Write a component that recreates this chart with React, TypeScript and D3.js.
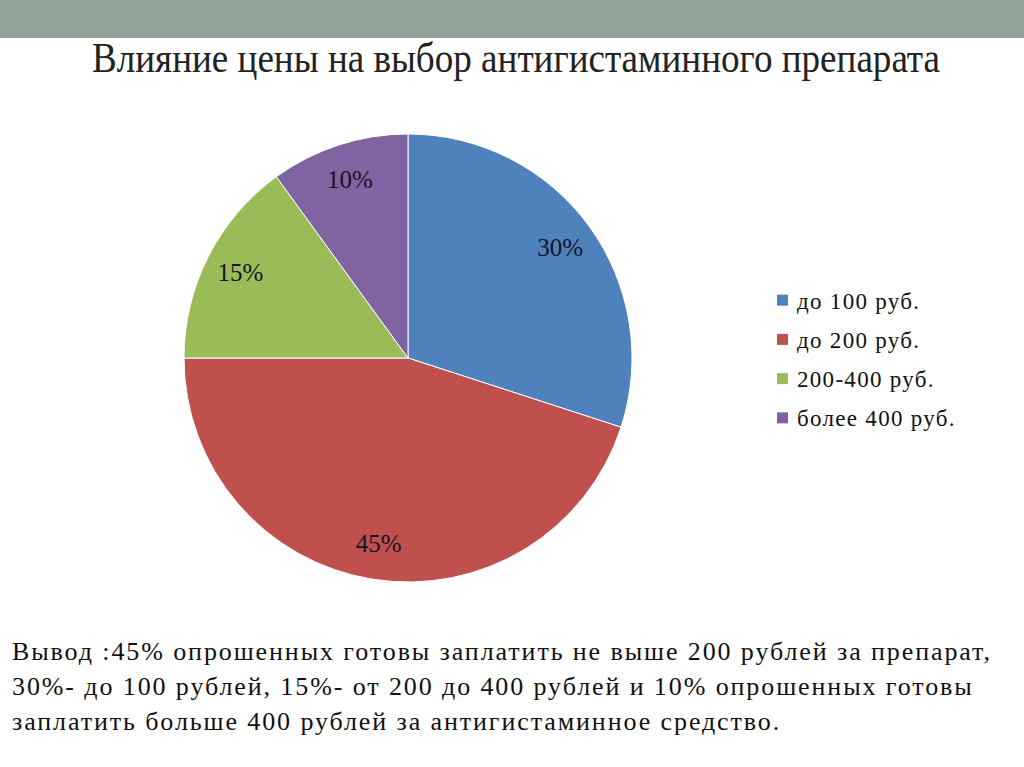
import React from "react";
import * as d3 from "d3";

const categories = ["до 100 руб.", "до 200 руб.", "200-400 руб.", "более 400 руб."];
const values = [30, 45, 15, 10];
const colors = ["#4f81bd", "#c0504d", "#9bbb59", "#8064a2"];
const title = "Влияние цены на выбор антигистаминного препарата";
const conclusion = [
  "Вывод :45% опрошенных готовы заплатить не выше 200 рублей за препарат,",
  "30%- до 100 рублей, 15%- от 200 до 400 рублей и 10% опрошенных готовы",
  "заплатить больше 400 рублей за антигистаминное средство.",
];

export default function App() {
  const W = 1024, H = 767;
  const cx = 408, cy = 358, R = 224;
  const pie = d3.pie<number>().sort(null).value((d) => d);
  const arcs = pie(values);
  const arc = d3.arc<d3.PieArcDatum<number>>().innerRadius(0).outerRadius(R);
  const labelArc = d3.arc<d3.PieArcDatum<number>>().innerRadius(188).outerRadius(188);
  const legendY = d3.scaleBand<number>().domain(d3.range(categories.length)).range([281, 438]);
  const font = "'Liberation Serif', 'Times New Roman', serif";
  return (
    <svg width={W} height={H} style={{ position: "absolute", left: 0, top: 0, background: "#fff" }}>
      <rect x={0} y={0} width={W} height={38} fill="#93a399" />
      <text x={92} y={72} style={{ fontFamily: font }} fontSize={42} fill="#222" textLength={848} lengthAdjust="spacingAndGlyphs">
        {title}
      </text>
      <g transform={`translate(${cx},${cy})`}>
        {arcs.map((a, i) => (
          <path key={i} d={arc(a) as string} fill={colors[i]} stroke="#fff" strokeWidth={1} />
        ))}
        {arcs.map((a, i) => {
          const [x, y] = labelArc.centroid(a);
          return (
            <text key={i} x={x} y={y} dy="0.35em" textAnchor="middle" style={{ fontFamily: font }} fontSize={25} fill="#141428">
              {values[i]}%
            </text>
          );
        })}
      </g>
      {categories.map((c, i) => {
        const y = (legendY(i) as number) + legendY.bandwidth() / 2;
        return (
          <g key={i}>
            <rect x={777} y={y - 6} width={11} height={11} fill={colors[i]} />
            <text x={797} y={y} dy="0.35em" style={{ fontFamily: font, letterSpacing: "1.3px" }} fontSize={23} fill="#111">
              {c}
            </text>
          </g>
        );
      })}
      {conclusion.map((line, i) => (
        <text key={i} x={12} y={660 + i * 35} style={{ fontFamily: font, letterSpacing: "1.9px" }} fontSize={26} fill="#111">
          {line}
        </text>
      ))}
    </svg>
  );
}
